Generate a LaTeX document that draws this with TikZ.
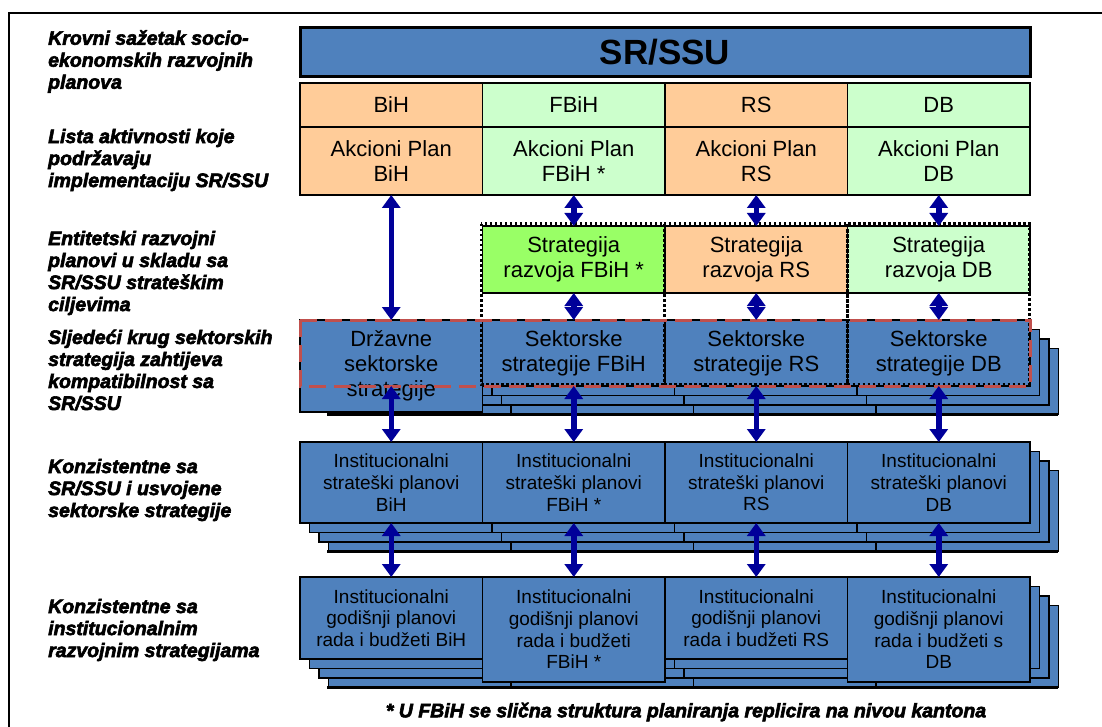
\documentclass[tikz,border=0pt]{standalone}
\usepackage{fontspec}
\setmainfont{Liberation Sans}
\newfontfamily\lblfont{Liberation Sans}[BoldItalicFeatures={FakeBold=3}]
\usetikzlibrary{arrows.meta}
\definecolor{oblue}{HTML}{4F81BD}
\definecolor{opeach}{HTML}{FFCC99}
\definecolor{lgreen}{HTML}{CCFFCC}
\definecolor{bgreen}{HTML}{99FF66}
\definecolor{ored}{HTML}{C0504D}
\definecolor{arrblue}{HTML}{000099}
\begin{document}
\begin{tikzpicture}[x=1pt,y=-1pt,
  cell/.style={draw=black, line width=1.3pt, anchor=north west, inner sep=0pt, outer sep=0pt, minimum width=182.5pt, align=center, text=black},
  hdrfont/.style={font=\fontsize{22}{25}\selectfont},
  instfont/.style={font=\fontsize{19}{21.7}\selectfont},
  shadowbox/.style={draw=black, line width=1.3pt, fill=oblue},
  lbl/.style={anchor=west, align=left, inner sep=0pt, font=\fontsize{19.5}{22}\lblfont\bfseries\itshape},
  biarrow/.style={draw=arrblue, line width=5.5pt, arrows={Triangle[width=18pt,length=13pt]-Triangle[width=18pt,length=13pt]}},
  dotbox/.style={draw=black, line width=3pt, dash pattern=on 2.5pt off 2.5pt},
  reddash/.style={draw=ored, line width=3pt, dash pattern=on 17pt off 8pt}
]
\useasboundingbox (0,0) rectangle (1102,727);
% frame
\draw[line width=2pt] (9,727) -- (9,13) -- (1102,13);

% left labels
\node[lbl] (L1) at (48,61.5) {Krovni sažetak socio-\\ekonomskih razvojnih\\planova};
\node[lbl] (L2) at (48,160) {Lista aktivnosti koje\\podržavaju\\implementaciju SR/SSU};
\node[lbl] (L3) at (48,273) {Entitetski razvojni\\planovi u skladu sa\\SR/SSU strateškim\\ciljevima};
\node[lbl] (L4) at (48,370) {Sljedeći krug sektorskih\\strategija zahtijeva\\kompatibilnost sa\\SR/SSU};
\node[lbl] (L5) at (48,490) {Konzistentne sa\\SR/SSU i usvojene\\sektorske strategije};
\node[lbl] (L6) at (48,630) {Konzistentne sa\\institucionalnim\\razvojnim strategijama};

% top block
\node[cell, minimum width=730pt, minimum height=49pt, line width=3pt, fill=oblue, font=\fontsize{35}{40}\selectfont\bfseries] (srssu) at (300,28) {SR/SSU};
\node[cell, hdrfont, fill=opeach, minimum height=44pt] (hBiH) at (300,83) {BiH};
\node[cell, hdrfont, fill=lgreen, minimum height=44pt] (hFBiH) at (482.5,83) {FBiH};
\node[cell, hdrfont, fill=opeach, minimum height=44pt] (hRS) at (665,83) {RS};
\node[cell, hdrfont, fill=lgreen, minimum height=44pt] (hDB) at (847.5,83) {DB};
\node[cell, hdrfont, fill=opeach, minimum height=68pt] (aBiH) at (300,127) {Akcioni Plan\\BiH};
\node[cell, hdrfont, fill=lgreen, minimum height=68pt] (aFBiH) at (482.5,127) {Akcioni Plan\\FBiH *};
\node[cell, hdrfont, fill=opeach, minimum height=68pt] (aRS) at (665,127) {Akcioni Plan\\RS};
\node[cell, hdrfont, fill=lgreen, minimum height=68pt] (aDB) at (847.5,127) {Akcioni Plan\\DB};

% sector strategies: stacks
\foreach \k in {3,2,1} {
  \foreach \xl in {300,482.5,665,847.5} {
    \draw[shadowbox] ({\xl+9.5*\k},{320+9.5*\k}) rectangle +(182.5,66);
  }
}
\draw[line width=2.5pt] (327,414.5) -- (1058,414.5);
\node[cell, hdrfont, fill=oblue, minimum height=92pt] (dBiH) at (300,320) {Državne\\sektorske\\strategije};
\node[cell, hdrfont, fill=oblue, minimum height=66pt] (kFBiH) at (482.5,320) {Sektorske\\strategije FBiH};
\node[cell, hdrfont, fill=oblue, minimum height=66pt] (kRS) at (665,320) {Sektorske\\strategije RS};
\node[cell, hdrfont, fill=oblue, minimum height=66pt] (kDB) at (847.5,320) {Sektorske\\strategije DB};

% entity strategies
\node[cell, hdrfont, fill=bgreen, minimum height=67pt] (sFBiH) at (482.5,226) {Strategija\\razvoja FBiH *};
\node[cell, hdrfont, fill=opeach, minimum height=67pt] (sRS) at (665,226) {Strategija\\razvoja RS};
\node[cell, hdrfont, fill=lgreen, minimum height=67pt] (sDB) at (847.5,226) {Strategija\\razvoja DB};

% dotted groupings
\draw[dotbox] (481,224) rectangle (664,384);
\draw[dotbox] (664,224) rectangle (847.5,384);
\draw[dotbox] (847.5,224) rectangle (1029,384);

% red dashed compatibility frame
\draw[reddash] (300,320) rectangle (1030,386);

% institutional strategic plans
\foreach \k in {3,2,1} {
  \foreach \xl in {300,482.5,665,847.5} {
    \draw[shadowbox] ({\xl+9.5*\k},{442+9.5*\k}) rectangle +(182.5,81);
  }
}
\draw[line width=2.5pt] (327,551.5) -- (1058,551.5);
\node[cell, instfont, fill=oblue, minimum height=81pt] (iBiH) at (300,442) {Institucionalni\\strateški planovi\\BiH};
\node[cell, instfont, fill=oblue, minimum height=81pt] (iFBiH) at (482.5,442) {Institucionalni\\strateški planovi\\FBiH *};
\node[cell, instfont, fill=oblue, minimum height=81pt] (iRS) at (665,442) {Institucionalni\\strateški planovi\\RS};
\node[cell, instfont, fill=oblue, minimum height=81pt] (iDB) at (847.5,442) {Institucionalni\\strateški planovi\\DB};

% institutional annual plans
\foreach \k in {3,2,1} {
  \foreach \xl in {300,482.5,665,847.5} {
    \draw[shadowbox] ({\xl+9.5*\k},{577+9.5*\k}) rectangle +(182.5,82);
  }
}
\draw[line width=2.5pt] (327,687.5) -- (1058,687.5);
\node[cell, instfont, fill=oblue, minimum height=82pt] (gBiH) at (300,577) {Institucionalni\\godišnji planovi\\rada i budžeti BiH};
\node[cell, instfont, fill=oblue, minimum height=105pt] (gFBiH) at (482.5,577) {Institucionalni\\godišnji planovi\\rada i budžeti\\FBiH *};
\node[cell, instfont, fill=oblue, minimum height=82pt] (gRS) at (665,577) {Institucionalni\\godišnji planovi\\rada i budžeti RS};
\node[cell, instfont, fill=oblue, minimum height=105pt] (gDB) at (847.5,577) {Institucionalni\\godišnji planovi\\rada i budžeti s\\DB};

% arrows
\coordinate (dBiHb) at (391.25,386);
\draw[biarrow] (aBiH.south) -- (dBiH.north);
\foreach \c in {FBiH,RS,DB} {
  \draw[biarrow] (a\c.south) -- (s\c.north);
  \draw[biarrow] (s\c.south) -- (k\c.north);
  \draw[biarrow] (k\c.south) -- (i\c.north);
}
\draw[biarrow] (dBiHb) -- (iBiH.north);
\foreach \c in {BiH,FBiH,RS,DB} {
  \draw[biarrow] (i\c.south) -- (g\c.north);
}

% footnote
\node[font=\fontsize{19.5}{22}\lblfont\bfseries\itshape] (foot) at (686,712) {* U FBiH se slična struktura planiranja replicira na nivou kantona};
\end{tikzpicture}
\end{document}
